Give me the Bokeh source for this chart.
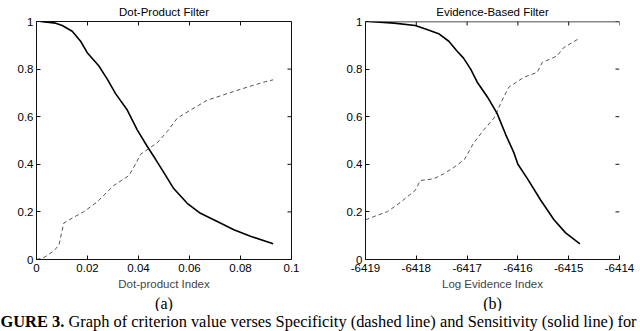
import math
from bokeh.plotting import figure
from bokeh.layouts import row, column
from bokeh.models import FixedTicker, Range1d, Title, Span
from bokeh.core.properties import value
from bokeh.embed import file_html
from bokeh.resources import INLINE

# ---------------- data ----------------
# Panel (a): Dot-Product Filter
dot_sens_x = [0.0016, 0.0075, 0.0101, 0.014, 0.0173, 0.0199, 0.0244, 0.0277, 0.031, 0.0356,
              0.0395, 0.0434, 0.0467, 0.0499, 0.0538, 0.0591, 0.0643, 0.0709, 0.0774, 0.0839, 0.0928]
dot_sens_y = [1.0, 0.993, 0.983, 0.959, 0.917, 0.869, 0.814, 0.759, 0.697, 0.628,
              0.545, 0.476, 0.421, 0.366, 0.298, 0.236, 0.194, 0.160, 0.125, 0.098, 0.066]
dot_spec_x = [0.0, 0.0029, 0.0068, 0.0088, 0.0107, 0.014, 0.0186, 0.0238, 0.0303, 0.0362, 0.0388,
              0.0408, 0.0473, 0.0513, 0.0552, 0.0604, 0.0669, 0.0748, 0.0826, 0.0891, 0.0928]
dot_spec_y = [0.0, 0.008, 0.036, 0.061, 0.153, 0.174, 0.201, 0.242, 0.311, 0.352, 0.400,
              0.442, 0.490, 0.538, 0.594, 0.628, 0.669, 0.697, 0.724, 0.745, 0.755]

# Panel (b): Evidence-Based Filter
ev_sens_x = [-6418.92, -6418.44, -6418.02, -6417.79, -6417.56, -6417.36, -6417.20, -6417.07,
             -6416.93, -6416.80, -6416.60, -6416.41, -6416.24, -6416.08, -6416.00, -6415.81,
             -6415.55, -6415.29, -6415.06, -6414.78]
ev_sens_y = [1.0, 0.993, 0.983, 0.966, 0.949, 0.917, 0.876, 0.846,
             0.800, 0.745, 0.683, 0.614, 0.525, 0.449, 0.400, 0.339,
             0.249, 0.167, 0.112, 0.066]
ev_spec_x = [-6419.0, -6418.84, -6418.57, -6418.38, -6418.18, -6418.02, -6417.92, -6417.66,
             -6417.46, -6417.26, -6417.05, -6416.87, -6416.67, -6416.47, -6416.31, -6416.18,
             -6415.88, -6415.62, -6415.52, -6415.23, -6415.10, -6414.80]
ev_spec_y = [0.167, 0.180, 0.201, 0.229, 0.263, 0.291, 0.332, 0.339,
             0.360, 0.387, 0.421, 0.490, 0.545, 0.594, 0.669, 0.724,
             0.766, 0.786, 0.828, 0.855, 0.890, 0.928]

dot_xticks = [0, 0.02, 0.04, 0.06, 0.08, 0.1]
dot_xtick_labels = ["0", "0.02", "0.04", "0.06", "0.08", "0.1"]
ev_xticks = [-6419, -6418, -6417, -6416, -6415, -6414]
ev_xtick_labels = ["-6419", "-6418", "-6417", "-6416", "-6415", "-6414"]
yticks = [0, 0.2, 0.4, 0.6, 0.8, 1]
ytick_labels = ["0", "0.2", "0.4", "0.6", "0.8", "1"]

titles = ["Dot-Product Filter", "Evidence-Based Filter"]
xlabels = ["Dot-product Index", "Log Evidence Index"]
panel_tags = ["(a)", "(b)"]
caption_bold = "GURE 3."
caption_text = "Graph of criterion value verses Specificity (dashed line) and Sensitivity (solid line) for"

SANS = "Liberation Sans"
SERIF = "Liberation Serif"
TICK_PX = "11.5px"
LABEL_PX = "11.5px"
INK = "#111111"


def style_axis(ax):
    ax.axis_line_color = INK
    ax.axis_line_width = 1
    ax.major_tick_line_color = INK
    ax.major_tick_in = 4
    ax.major_tick_out = 0
    ax.minor_tick_line_color = None
    ax.major_label_text_font = SANS
    ax.major_label_text_font_size = TICK_PX
    ax.major_label_text_color = "black"


def make_panel(xr, xticks, xtick_labels, sx, sy, px, py, title, xlabel, tag,
               border_left, border_right, full_box):
    p = figure(width=320, height=311, output_backend="svg", toolbar_location=None,
               x_range=Range1d(xr[0], xr[1]), y_range=Range1d(0, 1),
               min_border_left=border_left, min_border_right=border_right,
               min_border_top=20, min_border_bottom=49)
    p.xgrid.visible = False
    p.ygrid.visible = False
    p.background_fill_color = "white"
    p.border_fill_color = "white"
    if full_box:
        p.outline_line_color = INK
        p.outline_line_width = 1
        p.outline_line_alpha = 1
    else:
        p.outline_line_color = None
        p.add_layout(Span(location=1, dimension="width", line_color=INK, line_width=1.5))

    p.xaxis.ticker = FixedTicker(ticks=xticks)
    p.xaxis.major_label_overrides = {t: l for t, l in zip(xticks, xtick_labels)}
    p.yaxis.ticker = FixedTicker(ticks=yticks)
    p.yaxis.major_label_overrides = {t: l for t, l in zip(yticks, ytick_labels)}
    style_axis(p.xaxis[0])
    style_axis(p.yaxis[0])
    p.xaxis.major_label_standoff = 4
    p.yaxis.major_label_standoff = 3
    p.xaxis.axis_label = xlabel
    p.xaxis.axis_label_text_font = SANS
    p.xaxis.axis_label_text_font_size = LABEL_PX
    p.xaxis.axis_label_text_font_style = "normal"
    p.xaxis.axis_label_standoff = 3

    # inward ticks on the top and right edges, at the same tick values
    p.ray(x=xticks, y=[yticks[-1]] * len(xticks), length=4, length_units="screen",
          angle=-math.pi / 2, line_color=INK, line_width=1)
    p.ray(x=[xr[1]] * len(yticks), y=yticks, length=4, length_units="screen",
          angle=math.pi, line_color=INK, line_width=1)

    p.line(px, py, line_color="#555555", line_width=1, line_dash="4 3")
    p.line(sx, sy, line_color="black", line_width=1.6)

    p.title.text = title
    p.title.align = "center"
    p.title.text_font = SANS
    p.title.text_font_size = LABEL_PX
    p.title.text_font_style = "normal"
    p.title.text_color = "black"
    p.title.standoff = 7

    p.add_layout(Title(text=tag, align="center", text_font=SERIF, text_font_size="16px",
                       text_font_style="normal", text_color="black", standoff=0), "below")
    return p


p1 = make_panel((0, 0.1), dot_xticks, dot_xtick_labels, dot_sens_x, dot_sens_y,
                dot_spec_x, dot_spec_y, titles[0], xlabels[0], panel_tags[0],
                36, 29, True)
p2 = make_panel((-6419, -6414), ev_xticks, ev_xtick_labels, ev_sens_x, ev_sens_y,
                ev_spec_x, ev_spec_y, titles[1], xlabels[1], panel_tags[1],
                45, 21, False)

cap = figure(width=640, height=20, output_backend="svg", toolbar_location=None,
             x_range=Range1d(0, 640), y_range=Range1d(0, 20),
             min_border=0, min_border_left=0, min_border_right=0,
             min_border_top=0, min_border_bottom=0)
cap.axis.visible = False
cap.grid.visible = False
cap.outline_line_color = None
cap.text(x=[0], y=[20], text=[caption_bold], text_baseline="top", text_align="left",
         text_font=value(SERIF), text_font_size=value("16.4px"), text_font_style="bold",
         text_color="black")
cap.text(x=[68], y=[20], text=[caption_text], text_baseline="top", text_align="left",
         text_font=value(SERIF), text_font_size=value("16.4px"), text_color="black")

layout = column(row(p1, p2), cap)
open("out.html", "w").write(file_html(layout, INLINE))
